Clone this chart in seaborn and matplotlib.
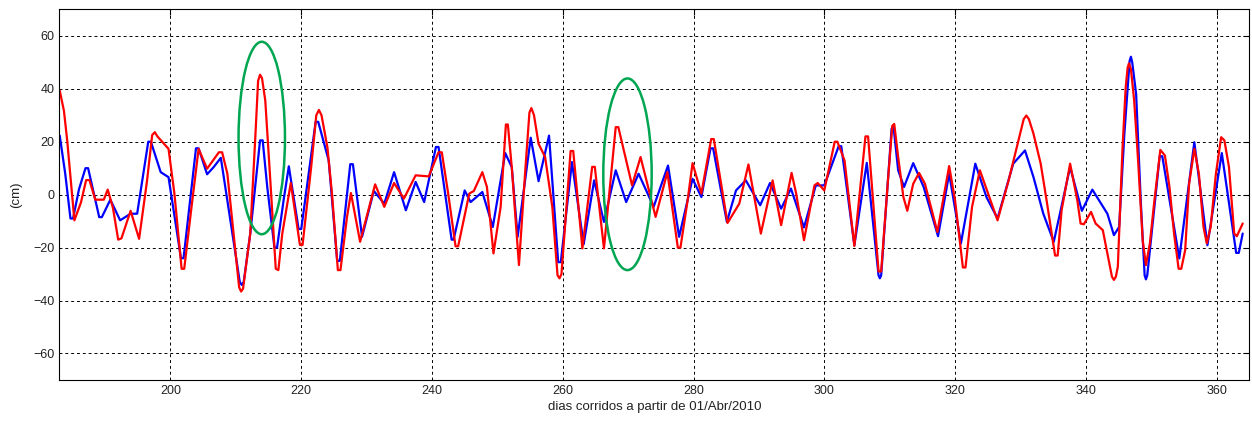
import matplotlib
matplotlib.use("Agg")
import matplotlib.pyplot as plt
from matplotlib.patches import Ellipse
import seaborn as sns
import numpy as np
import pandas as pd

# --- values (day, cm) ---
red_a = [(183.06, 39.3), (183.7, 31.7), (184.2, 20.5), (184.7, 6.6), (185.3, -9.7), (186.3, -3),
         (187.1, 5.5), (187.6, 5.5), (188.5, -1.9), (189.8, -1.9), (190.4, 1.9), (191.2, -5),
         (192.0, -17.0), (192.5, -16.5), (193.9, -6.1), (195.2, -16.7), (196.4, 5), (197.2, 22.5),
         (197.6, 23.6), (198.0, 22.0), (199.0, 19.2), (199.7, 17.3), (200.6, 0.4), (201.7, -28.0),
         (202.1, -28.0), (203.2, -5), (204.3, 17.3), (205.6, 9.8), (207.4, 16.0), (207.9, 16.0),
         (208.7, 7.9), (210.5, -35.0), (210.8, -36.6), (211.1, -35.5), (212.2, -14.7), (213.0, 23),
         (213.4, 43.0), (213.7, 45.3), (214.0, 44.0), (214.5, 35.5), (215.3, 4.1), (216.1, -28.0),
         (216.5, -28.5), (217.1, -14.7), (218.4, 4.4), (219.8, -19.0), (220.2, -19.0), (221.5, 10),
         (222.3, 30.0), (222.7, 32), (223.1, 30.0), (224.0, 17.9), (224.7, 0.4), (225.6, -28.5),
         (226.0, -28.5), (227.0, -8.4), (227.6, 0.6), (229.0, -17.8), (231.3, 3.9), (232.7, -4.6),
         (234.2, 4.4), (235.7, -1.5), (237.5, 7.3), (239.5, 6.9), (241.0, 16.0), (241.5, 16.0),
         (242.5, 0), (243.6, -19.5), (244.0, -19.5)]
red_b = [(245.7, 0.4), (246.4, 1.4), (247.7, 8.5), (248.4, 2.9), (249.4, -22.2), (250.5, -4.6),
         (251.3, 26.5), (251.6, 26.5), (252.2, 10.4), (253.3, -26.6), (254.3, 10.4), (254.9, 31.0),
         (255.2, 32.7), (255.6, 30.0), (256.3, 19.2), (257.3, 14.2), (258.4, -4.6), (259.2, -30.5),
         (259.5, -31.6), (259.8, -30.0), (261.2, 16.5), (261.6, 16.5), (263.0, -20.3), (264.5, 10.5),
         (264.9, 10.5), (266.3, -20.3), (268.1, 25.5), (268.5, 25.5), (270.6, 3.5), (271.9, 14.2),
         (274.2, -8.4), (276.0, 8.5), (277.6, -20.0), (278.0, -20.0), (279.1, -2.1), (279.85, 11.9),
         (281.2, 0.4), (282.7, 21.0), (283.1, 21.0), (285.2, -10.7), (287.0, -3.4), (288.4, 11.4),
         (290.3, -14.7), (292.1, 5.4), (293.4, -11.5), (295.0, 8.2), (295.7, 0.4), (296.9, -17.2),
         (298.5, 3.5), (299.0, 4.4), (300.0, 1.6)]
red_c = [(301.6, 20.0), (302.0, 20.0), (303.1, 12.9), (304.6, -19.4), (306.3, 22.0), (306.7, 22.0),
         (308.3, -29.0), (308.7, -29.0), (309.7, 4.1), (310.4, 26.0), (310.7, 26.7), (311.3, 14.2),
         (312.1, -0.9), (312.7, -6.1), (313.6, 4.1), (314.5, 8.2), (315.4, 4.1), (317.3, -14.1),
         (319.1, 10.8), (320.0, -2.1), (321.2, -27.5), (321.6, -27.5), (322.6, -4.6), (323.8, 9.2),
         (326.5, -9.7), (328.2, 5.4), (329.7, 20.5), (330.5, 28.5), (330.9, 29.9), (331.3, 28.5),
         (332.0, 23), (333.1, 11.7), (334.0, -2.1), (335.3, -23.0), (335.7, -23.0), (336.3, -5.9),
         (337.6, 11.7), (338.7, -2.1), (339.2, -10.9), (339.7, -11.2), (340.8, -6.5), (341.5, -10.9),
         (342.6, -13.4), (343.3, -22.2), (344.0, -31.0), (344.3, -32.2), (344.6, -31.0), (344.9, -27.2),
         (345.6, 16.7), (346.1, 40.5), (346.4, 48.0), (346.6, 49.6), (346.9, 47.5), (347.4, 35.5),
         (348.0, 12.9), (348.7, -17.2), (349.2, -26.6), (349.8, -18.4), (350.5, -2.1), (351.4, 16.9),
         (352.1, 14.8), (352.8, 2.9), (353.5, -14.7), (354.2, -28.0), (354.6, -28.0), (355.2, -21),
         (355.8, 4.1), (356.6, 17.3), (357.3, 7.9), (358.0, -12.2), (358.5, -18.4), (359.1, -12.2),
         (359.9, 7.9), (360.7, 21.7), (361.2, 20.5), (361.9, 10.4), (362.7, -14.7), (363.1, -15.7),
         (364.0, -10.9)]

blue_a = [(183.06, 22.3), (183.9, 7.9), (184.7, -9.0), (185.1, -9.0), (186.0, 2), (187.0, 10.0),
          (187.4, 10.0), (189.1, -8.5), (189.5, -8.5), (190.8, -1.9), (192.3, -9.7), (193.9, -7.2),
          (194.9, -7.2), (196.6, 20.0), (197.0, 20.0), (198.5, 8.5), (199.7, 6.6), (201.6, -24.0),
          (202.0, -24.0), (203.9, 17.5), (204.3, 17.5), (205.6, 7.7), (206.6, 10.4), (207.7, 13.9),
          (210.6, -33.0), (210.9, -34.1), (211.2, -33.0), (212.2, -14.7), (213.7, 20.5), (214.1, 20.5),
          (214.8, 2.9), (215.9, -20.0), (216.3, -20.0), (217.3, -2.1), (218.1, 10.7), (219.6, -13.0),
          (220.0, -13.0), (222.2, 27.5), (222.6, 27.5), (224.2, 12.9), (225.5, -25.0), (225.9, -25.0),
          (227.5, 11.5), (227.9, 11.5), (229.3, -15.9), (231.1, 1.4), (232.7, -3.4), (234.2, 8.5),
          (236.0, -5.9), (237.5, 4.8), (238.8, -2.8), (240.6, 18.0), (241.0, 18.0), (243.0, -17.0),
          (243.3, -17.0)]
blue_b = [(245.0, 1.6), (245.9, -2.8), (247.7, 1.0), (249.3, -12.2), (251.2, 15.7), (252.2, 10.4),
          (253.1, -15.9), (255.1, 21.5), (256.3, 5.1), (257.9, 22.3), (259.3, -25.5), (259.7, -25.5),
          (261.4, 12.3), (263.2, -18.7), (264.8, 5.4), (266.3, -10.3), (268.1, 9.2), (269.7, -2.8),
          (271.6, 7.9), (273.9, -4.6), (276.1, 11), (277.8, -15.9), (279.85, 6.0), (281.2, -0.9),
          (282.6, 17.5), (283.0, 17.5), (285.1, -10.3), (286.5, 1.6), (288.0, 5.4), (290.2, -4),
          (291.7, 4.4), (293.4, -5.3), (294.9, 2.3), (296.9, -12.4), (298.7, 3.5), (300.0, 3.5)]
blue_c = [(302.2, 18.3), (302.6, 18.3), (304.6, -19.1), (306.5, 12), (308.3, -30.5), (308.5, -31.6),
          (308.7, -30.5), (310.3, 25.0), (310.6, 25.5), (311.3, 9.2), (312.2, 2.9), (313.6, 11.9),
          (315.2, 2.9), (317.4, -15.7), (319.1, 7.9), (320.9, -18.4), (323.1, 11.7), (324.8, -0.9),
          (326.5, -9), (328.9, 11.7), (330.7, 16.7), (332.0, 6.6), (333.5, -7.2), (335.1, -17.8),
          (337.6, 10.4), (339.4, -6.1), (341.0, 1.9), (343.3, -7.2), (344.3, -15.3), (345.1, -12.2),
          (345.9, 23), (346.7, 50.5), (346.9, 52.1), (347.1, 50.0), (347.7, 38), (348.4, -2.1),
          (349.0, -30.5), (349.2, -32), (349.4, -30.5), (351.3, 14.5), (351.7, 14.5), (354.3, -24.1),
          (356.6, 19.8), (358.6, -19.1), (360.8, 15.7), (363.0, -22.0), (363.4, -22.0), (364.0, -14.7)]

# highlighted events: (center day, center cm, width days, height cm)
highlights = [(213.96, 21.4, 7.1, 72.7), (269.9, 7.7, 7.4, 72.4)]

x_ticks = [200, 220, 240, 260, 280, 300, 320, 340, 360]
y_ticks = [-60, -40, -20, 0, 20, 40, 60]

sns.set_style("white")
plt.rcParams["font.family"] = ["Liberation Sans", "DejaVu Sans"]

red = pd.DataFrame(red_a + red_b + red_c, columns=["dia", "cm"])
blue = pd.DataFrame(blue_a + blue_b + blue_c, columns=["dia", "cm"])

fig = plt.figure(figsize=(12.52, 4.25), dpi=100)
ax = fig.add_axes([0.0474, 0.106, 0.9504, 0.872])

sns.lineplot(data=blue, x="dia", y="cm", sort=False, estimator=None,
             color="#0000ff", linewidth=1.6, ax=ax)
sns.lineplot(data=red, x="dia", y="cm", sort=False, estimator=None,
             color="#ff0000", linewidth=1.6, ax=ax)

for cx, cy, w, h in highlights:
    ax.add_patch(Ellipse((cx, cy), w, h, fill=False, edgecolor="#00a651", linewidth=1.8, zorder=5))

ax.set_xlim(183, 365)
ax.set_ylim(-70, 70)
ax.set_xticks(x_ticks)
ax.set_yticks(y_ticks)
ax.grid(True, color="black", linestyle=(0, (3, 3)), linewidth=0.7)
ax.tick_params(direction="in", length=4, labelsize=9, colors="black",
               top=True, right=True, labelcolor="#222222")
for s in ax.spines.values():
    s.set_color("black")
    s.set_linewidth(0.8)
ax.set_xlabel("dias corridos a partir de 01/Abr/2010", fontsize=9.5, color="#222222", labelpad=3)
ax.set_ylabel("(cm)", fontsize=9.5, color="#222222", labelpad=8)

fig.savefig("out.png", dpi=100, facecolor="white")
